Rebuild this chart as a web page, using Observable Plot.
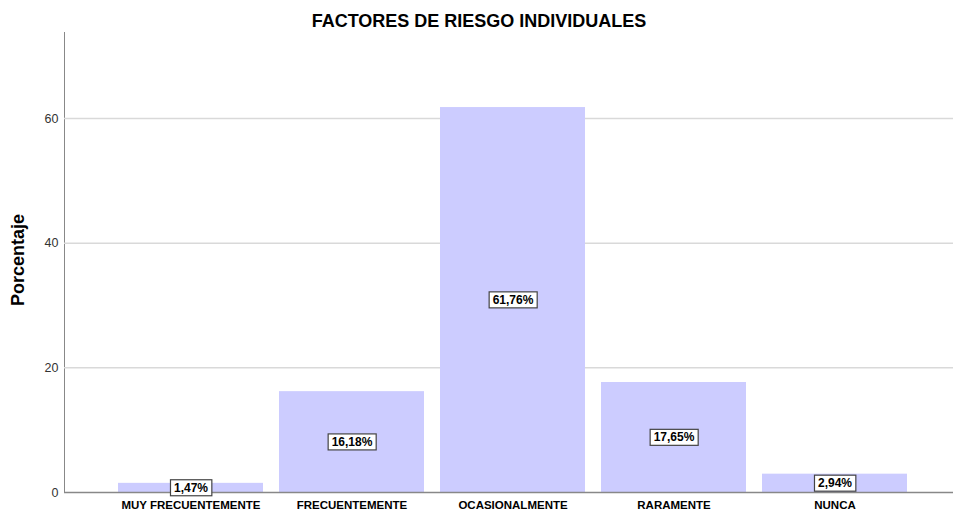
<!DOCTYPE html>
<html>
<head>
<meta charset="utf-8">
<script src="https://cdn.jsdelivr.net/npm/d3@7"></script>
<script src="https://cdn.jsdelivr.net/npm/@observablehq/plot@0.6"></script>
<style>
html, body { margin: 0; padding: 0; background: #fff; }
#wrap { position: relative; width: 953px; height: 513px; font-family: "Liberation Sans", Arial, sans-serif; overflow: hidden; }
#title { position: absolute; left: 0; width: 958px; top: 12px; text-align: center; font-weight: bold; font-size: 18px; line-height: 18px; color: #000; }
#ylabel { position: absolute; left: 18px; top: 260px; transform: translate(-50%, -50%) rotate(-90deg); font-weight: bold; font-size: 18px; line-height: 18px; white-space: nowrap; color: #000; }
#chart { position: absolute; left: 0; top: 0; }
#chart svg text { fill: #333; }
#chart [aria-label^="x-axis"] text { font-weight: bold; font-size: 11.5px; fill: #000; }
#chart svg text.value-label { fill: #000; }
</style>
</head>
<body>
<div id="wrap">
  <div id="chart"></div>
  <div id="title">FACTORES DE RIESGO INDIVIDUALES</div>
  <div id="ylabel">Porcentaje</div>
</div>
<script>
const categories = ["MUY FRECUENTEMENTE", "FRECUENTEMENTE", "OCASIONALMENTE", "RARAMENTE", "NUNCA"];
const percentages = [1.47, 16.18, 61.76, 17.65, 2.94];
const yTicks = [0, 20, 40, 60];

const data = categories.map((c, i) => ({categoria: c, porcentaje: percentages[i]}));
const fmt = v => v.toFixed(2).replace(".", ",") + "%";
const labelSet = new Set(percentages.map(fmt));

const plot = Plot.plot({
  width: 953,
  height: 513,
  marginTop: 32,
  marginBottom: 21,
  marginLeft: 64,
  marginRight: 0,
  style: {color: "#888", fontFamily: "Liberation Sans, Arial, sans-serif", fontSize: "12.5px", background: "transparent"},
  x: {domain: categories, range: [117, 908], paddingInner: 0.102, paddingOuter: 0, label: null, tickSize: 0, tickPadding: 8},
  y: {domain: [0, 73.8], ticks: yTicks, tickSize: 0, tickPadding: 6, label: null, line: true},
  marks: [
    Plot.ruleY(yTicks.filter(d => d > 0), {stroke: "#d9d9d9", strokeWidth: 1.5}),
    Plot.barY(data, {x: "categoria", y: "porcentaje", fill: "#ccccff"}),
    Plot.ruleY([0], {stroke: "#888", strokeWidth: 1.5}),
    Plot.text(data, {x: "categoria", y: d => d.porcentaje / 2, text: d => fmt(d.porcentaje), fill: "#000", fontWeight: "bold", fontSize: 12})
  ]
});

document.getElementById("chart").append(plot);

Array.from(plot.querySelectorAll("text"))
  .filter(t => labelSet.has(t.textContent.trim()))
  .forEach(t => {
    t.setAttribute("class", "value-label");
    t.style.fill = "#000";
    const b = t.getBBox();
    const r = document.createElementNS("http://www.w3.org/2000/svg", "rect");
    r.setAttribute("x", b.x - 3.5);
    r.setAttribute("y", b.y - 1);
    r.setAttribute("width", b.width + 7);
    r.setAttribute("height", b.height + 2);
    r.setAttribute("fill", "#fff");
    r.setAttribute("stroke", "#444");
    r.setAttribute("stroke-width", 1.2);
    const tr = t.getAttribute("transform");
    if (tr) r.setAttribute("transform", tr);
    t.parentNode.insertBefore(r, t);
  });
</script>
</body>
</html>
